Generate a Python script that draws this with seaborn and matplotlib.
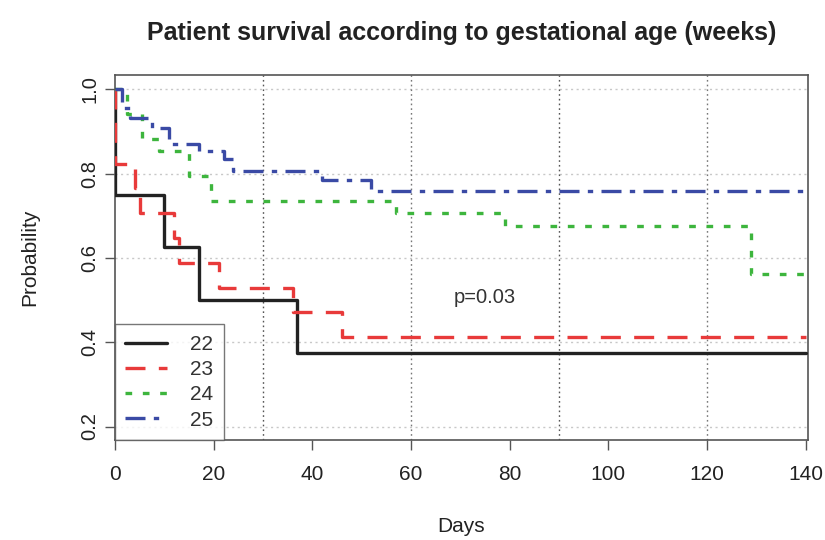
import matplotlib
matplotlib.use("Agg")
import matplotlib.pyplot as plt
from matplotlib.lines import Line2D
import seaborn as sns
import pandas as pd

# ---- data ----
groups = ["22", "23", "24", "25"]
t22 = [0, 0, 10, 17, 37, 140]
s22 = [1.0, 0.75, 0.625, 0.5, 0.375, 0.375]
t23 = [0, 0, 4, 5, 12, 13, 21, 36, 46, 140]
s23 = [1.0, 0.824, 0.765, 0.706, 0.647, 0.588, 0.529, 0.471, 0.412, 0.412]
t24 = [0, 2.5, 5.5, 9, 15, 19.5, 57, 79, 129, 140]
s24 = [1.0, 0.941, 0.882, 0.853, 0.794, 0.735, 0.706, 0.676, 0.563, 0.563]
t25 = [0, 1.5, 3, 7.5, 11, 17, 22, 24, 42, 52, 140]
s25 = [1.0, 0.955, 0.932, 0.909, 0.87, 0.853, 0.834, 0.806, 0.784, 0.758, 0.758]
x_ticks = [0, 20, 40, 60, 80, 100, 120, 140]
y_ticks = [0.2, 0.4, 0.6, 0.8, 1.0]
p_text = "p=0.03"

times = [t22, t23, t24, t25]
survs = [s22, s23, s24, s25]
rows = []
for g, ts, ss in zip(groups, times, survs):
    for i, (t, s) in enumerate(zip(ts, ss)):
        rows.append({"group": g, "days": t, "prob": s, "order": i})
df = pd.DataFrame(rows)

colors = {"22": "#222222", "23": "#e83a3a", "24": "#3db53d", "25": "#3a4aa5"}
dashes = {"22": "", "23": (6, 4), "24": (2, 3.2), "25": (6, 2.5, 1.6, 2.5)}

sns.set_style("white")
plt.rcParams["font.family"] = ["Liberation Sans", "DejaVu Sans"]

fig = plt.figure(figsize=(8.25, 5.4), dpi=100)
ax = fig.add_axes([115 / 825, 1 - 440 / 540, (808 - 115) / 825, (440 - 75) / 540])

# grid
for y in y_ticks:
    ax.axhline(y, color="#c8c8c8", lw=1.0, ls=(0, (1.5, 2.5)), zorder=0)
for x, c in [(30, "#555555"), (60, "#777777"), (90, "#555555"), (120, "#777777")]:
    ax.axvline(x, color=c, lw=1.0, ls=(0, (1.2, 2.2)), zorder=0)

sns.lineplot(data=df, x="days", y="prob", hue="group", style="group",
             palette=colors, dashes=dashes, estimator=None, sort=False,
             drawstyle="steps-post", lw=2.4, legend=False, ax=ax, zorder=3)

ax.set_xlim(0, 140.5)
ax.set_ylim(0.168, 1.034)
ax.set_xticks(x_ticks)
ax.set_yticks(y_ticks)
ax.set_xticklabels([str(v) for v in x_ticks], fontsize=15, color="#222222")
ax.set_yticklabels([f"{v:.1f}" for v in y_ticks], fontsize=14.5, color="#222222",
                   rotation=90, va="center")
ax.tick_params(axis="x", direction="out", length=7, width=1.0, color="#555555",
               bottom=True, pad=11)
ax.tick_params(axis="y", direction="out", length=7, width=1.0, color="#555555",
               left=True, pad=4)
for sp in ax.spines.values():
    sp.set_color("#555555")
    sp.set_linewidth(1.2)

ax.set_xlabel("Days", fontsize=15, color="#222222", labelpad=24)
ax.set_ylabel("Probability", fontsize=15, color="#222222", labelpad=30)
ax.set_title("Patient survival according to gestational age (weeks)",
             fontsize=18, fontweight="bold", color="#222222", pad=25)

ax.text(75, 0.507, p_text, fontsize=14.5, color="#333333", ha="center", va="center")

handles = [Line2D([], [], color=colors[g], lw=2.4,
                  ls="-" if dashes[g] == "" else (0, dashes[g])) for g in groups]
leg = ax.legend(handles, groups, loc="lower left", bbox_to_anchor=(0, 0),
                borderaxespad=0, frameon=True, fancybox=False, fontsize=15,
                handlelength=2.0, handletextpad=1.1, labelspacing=0.3,
                borderpad=0.5)
leg.get_frame().set_edgecolor("#555555")
leg.get_frame().set_linewidth(1.0)
for t in leg.get_texts():
    t.set_color("#333333")

fig.savefig("out.png", dpi=100)
